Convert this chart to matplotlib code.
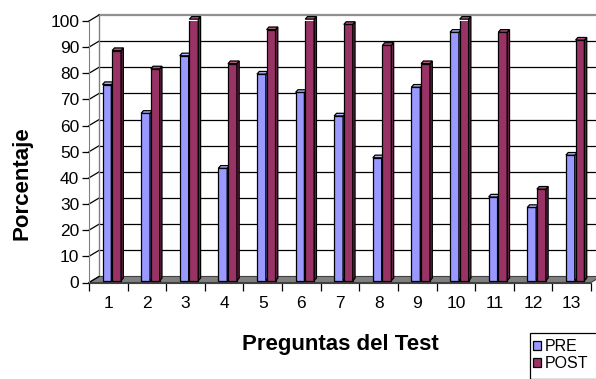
import matplotlib.pyplot as plt
from matplotlib.patches import Polygon, Patch, Rectangle

plt.rcParams['font.family'] = ['Liberation Sans', 'DejaVu Sans']

# Porcentaje de aciertos por pregunta, antes y después
preguntas = [str(i) for i in range(1, 14)]
pre = [75, 64, 86, 43, 79, 72, 63, 47, 74, 95, 32, 28, 48]
post = [88, 81, 100, 83, 96, 100, 98, 90, 83, 100, 95, 35, 92]

W, H = 596, 379
fig = plt.figure(figsize=(W / 100, H / 100), dpi=100)
ax = fig.add_axes([89 / W, (H - 282.5) / H, 502 / W, 261.5 / H])
ax.set_xlim(0, 13)
ax.set_ylim(0, 100)

DX, DY = 0.26, 2.3      # depth of the box
BX, BY = 0.06, 1.0      # depth of each column
B0 = 0.7                # columns stand half way back on the floor
n = len(preguntas)

# back wall, left wall and floor
ax.add_patch(Polygon([(0, 0), (n, 0), (n + DX, DY), (DX, DY)], closed=True,
                     facecolor='#808080', edgecolor='#404040', lw=0.8,
                     clip_on=False, zorder=1))
for v in range(10, 101, 10):
    c = '#909090' if v == 100 else 'black'
    lw = 1.6 if v == 100 else 0.9
    ax.plot([DX, n + DX], [v + DY, v + DY], color=c, lw=lw, clip_on=False, zorder=0.5)
    ax.plot([0, DX], [v, v + DY], color='black', lw=0.9, clip_on=False, zorder=0.5)
ax.plot([0, DX], [0, DY], color='black', lw=0.9, clip_on=False, zorder=1.2)
ax.plot([DX, DX], [DY, 100 + DY], color='#808080', lw=1.0, clip_on=False, zorder=0.6)


def columna(x, v, w, cara, lado, tapa):
    ax.bar(x, v, width=w, bottom=B0, color=cara, edgecolor='black', lw=0.9, zorder=3)
    r = x + w / 2
    l = x - w / 2
    top = B0 + v
    ax.add_patch(Polygon([(r, B0), (r + BX, B0 + BY), (r + BX, top + BY), (r, top)],
                         closed=True, facecolor=lado, edgecolor='black', lw=0.9,
                         clip_on=False, zorder=3))
    ax.add_patch(Polygon([(l, top), (r, top), (r + BX, top + BY), (l + BX, top + BY)],
                         closed=True, facecolor=tapa, edgecolor='black', lw=0.9,
                         clip_on=False, zorder=3))


w = 0.23
for i in range(n):
    columna(i + 0.465, pre[i], w, '#9999FF', '#6E6ECC', '#B8B8FF')
    columna(i + 0.715, post[i], w, '#993366', '#6B2347', '#B3577F')

# axes
for s in ['top', 'right']:
    ax.spines[s].set_visible(False)
ax.spines['left'].set_color('#808080')
ax.spines['left'].set_bounds(0, 100)
ax.spines['bottom'].set_color('#404040')
ax.set_yticks(range(0, 101, 10))
ax.tick_params(axis='y', direction='out', length=5, width=0.9, pad=2, labelsize=12.5)
ax.set_xticks(range(0, n + 1))
ax.set_xticklabels([])
ax.tick_params(axis='x', which='major', direction='out', length=6, width=0.9)
ax.set_xticks([i + 0.5 for i in range(n)], minor=True)
ax.set_xticklabels(preguntas, minor=True)
ax.tick_params(axis='x', which='minor', length=0, pad=10, labelsize=12.5)

fig.text(340 / W, 1 - 350 / H, 'Preguntas del Test', ha='center', va='baseline',
         fontsize=16, fontweight='bold')
fig.text(28 / W, 1 - 183 / H, 'Porcentaje', ha='center', va='baseline',
         rotation=90, rotation_mode='anchor', fontsize=16, fontweight='bold')

# legend box runs past the edge of the figure
fig.patches.append(Rectangle((530 / W, 0), 80 / W, 1 - 333 / H,
                             transform=fig.transFigure, facecolor='white',
                             edgecolor='black', lw=0.9, zorder=0))
handles = [Patch(facecolor='#9999FF', edgecolor='black', lw=0.9),
           Patch(facecolor='#993366', edgecolor='black', lw=0.9)]
fig.legend(handles, ['PRE', 'POST'], loc='upper left',
           bbox_to_anchor=(530 / W, 1 - 336 / H), borderaxespad=0,
           fontsize=11.5, frameon=False,
           borderpad=0.2, handlelength=0.5, handleheight=0.5,
           handletextpad=0.2, labelspacing=0.1)

fig.savefig('out.png', dpi=100)
